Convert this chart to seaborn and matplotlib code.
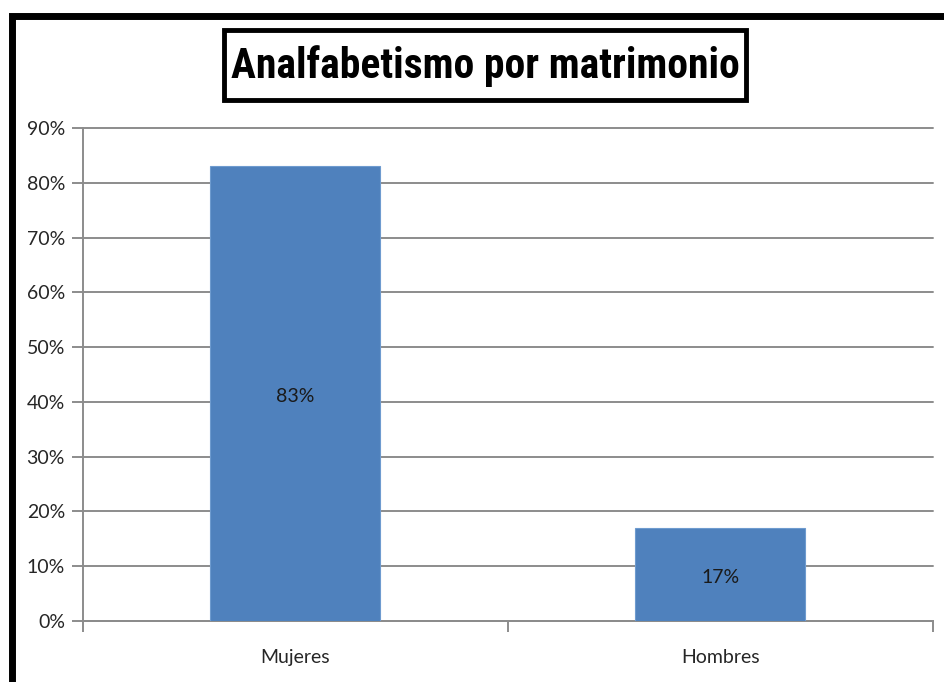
import matplotlib
matplotlib.use('Agg')
import matplotlib.pyplot as plt
import seaborn as sns
import pandas as pd
from matplotlib import font_manager
from matplotlib.patches import Rectangle
from matplotlib.ticker import MultipleLocator, PercentFormatter

# data
categorias = ['Mujeres', 'Hombres']
porcentajes = [83, 17]
etiquetas = ['83%', '17%']

sns.set_theme(style='white')

# pick a narrow face if one is there (the original uses Calibri)
nombres = {f.name for f in font_manager.fontManager.ttflist}
narrow = [n for n in ['Liberation Sans Narrow', 'Roboto Condensed', 'Open Sans Condensed',
                      'DejaVu Sans Condensed'] if n in nombres]
if narrow:
    fam_titulo, size_titulo = narrow[0], 30
else:
    fam_titulo, size_titulo = 'Lato', 26

plt.rcParams['font.family'] = ['Lato', 'DejaVu Sans']

df = pd.DataFrame({'categoria': categorias, 'pct': porcentajes})

fig = plt.figure(figsize=(9.45, 6.82), dpi=100)
ax = fig.add_axes([0.0878, 0.0894, 0.8995, 0.7229])

sns.barplot(data=df, x='categoria', y='pct', color='#4F81BD', saturation=1,
            width=0.4, ax=ax, zorder=3)

for patch, txt in zip(ax.patches, etiquetas):
    patch.set_edgecolor('#6E9BCF')
    patch.set_linewidth(0.8)
    ax.text(patch.get_x() + patch.get_width() / 2, patch.get_height() / 2 - 0.5, txt,
            ha='center', va='center', fontsize=14, color='#1a1a1a', zorder=4)

ax.set_ylim(0, 90)
ax.set_xlim(-0.5, 1.5)
ax.yaxis.set_major_locator(MultipleLocator(10))
ax.yaxis.set_major_formatter(PercentFormatter(decimals=0))
ax.set_xlabel('')
ax.set_ylabel('')
ax.grid(axis='y', color='#8C8C8C', linewidth=1.4, zorder=0)
for gl in ax.get_ygridlines():
    gl.set_clip_on(False)
for side in ['top', 'right']:
    ax.spines[side].set_visible(False)
for side in ['left', 'bottom']:
    ax.spines[side].set_color('#8C8C8C')
    ax.spines[side].set_linewidth(1.4)

# y ticks point left, x ticks sit between categories
ax.tick_params(axis='y', direction='out', length=8, width=1.4, color='#8C8C8C',
               labelsize=14, labelcolor='#262626', left=True, pad=5)
ax.set_xticks([0, 1])
ax.set_xticklabels(categorias)
ax.tick_params(axis='x', length=0, labelsize=14, labelcolor='#262626', pad=20)
ax.set_xticks([-0.5, 0.5, 1.5], minor=True)
ax.tick_params(axis='x', which='minor', direction='out', length=8, width=1.4,
               color='#8C8C8C', bottom=True)

# title in its own framed box
fig.patches.append(Rectangle((224 / 945, 1 - 100 / 682), 522 / 945, 70 / 682,
                             transform=fig.transFigure, facecolor='white',
                             edgecolor='black', linewidth=3.5))
fig.text(485 / 945, 1 - 66 / 682, 'Analfabetismo por matrimonio', ha='center', va='center',
         fontsize=size_titulo, fontweight='bold', fontfamily=fam_titulo, color='black')

# outer chart border (cut off at right and bottom)
fig.patches.append(Rectangle((0.0127, -0.05), 1.2, 1.027, transform=fig.transFigure,
                             fill=False, edgecolor='black', linewidth=5))

fig.savefig('out.png', dpi=100)
